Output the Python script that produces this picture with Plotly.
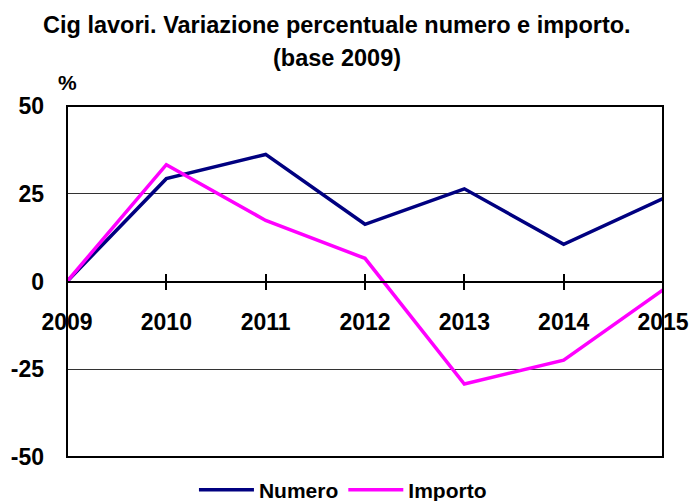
import plotly.graph_objects as go

years = [2009, 2010, 2011, 2012, 2013, 2014, 2015]
numero = [0, 29.3, 36.2, 16.3, 26.4, 10.6, 23.6]
importo = [0, 33.3, 17.4, 6.6, -29.2, -22.4, -2.4]
y_ticks = [-50, -25, 0, 25, 50]

title_line1 = "Cig lavori. Variazione percentuale numero e importo."
title_line2 = "(base 2009)"

font_family = "Arial, Liberation Sans, sans-serif"

fig = go.Figure()
fig.add_trace(go.Scatter(x=years, y=numero, mode="lines", name="Numero",
                         line=dict(color="#000080", width=3.5)))
fig.add_trace(go.Scatter(x=years, y=importo, mode="lines", name="Importo",
                         line=dict(color="#FF00FF", width=3.5)))
# invisible trace to drive the overlay axis (inside tick halves)
fig.add_trace(go.Scatter(x=years, y=[None]*len(years), xaxis="x2", yaxis="y",
                         showlegend=False, hoverinfo="skip"))

fig.update_layout(
    width=691, height=501,
    margin=dict(l=67, r=28, t=106, b=44),
    paper_bgcolor="white", plot_bgcolor="white",
    font=dict(family=font_family, color="black"),
    showlegend=True,
    legend=dict(orientation="h", x=0.463, xanchor="center",
                yref="container", y=0.022, yanchor="middle",
                font=dict(size=21, weight="bold"), itemwidth=55,
                bgcolor="rgba(0,0,0,0)"),
    xaxis=dict(
        range=[2009, 2015], tickmode="array", tickvals=years,
        ticktext=[str(y) for y in years],
        anchor="free", position=0.5, automargin=False,
        showline=True, linecolor="black", linewidth=1.5,
        ticks="outside", ticklen=8, tickwidth=1.5, tickcolor="black",
        ticklabelstandoff=12,
        tickfont=dict(size=23, weight="bold"),
        showgrid=False, zeroline=False,
    ),
    xaxis2=dict(
        range=[2009, 2015], tickmode="array", tickvals=years,
        overlaying="x", anchor="free", position=0.5, automargin=False,
        ticks="inside", ticklen=8, tickwidth=1.5, tickcolor="black",
        showticklabels=False, showline=False, showgrid=False, zeroline=False,
    ),
    yaxis=dict(
        range=[-50, 50], tickmode="array", tickvals=y_ticks,
        ticktext=[str(v) for v in y_ticks], automargin=False,
        showgrid=True, gridcolor="#333333", gridwidth=1,
        zeroline=False, ticks="", ticklabelstandoff=22,
        tickfont=dict(size=23, weight="bold"),
    ),
    shapes=[dict(type="rect", xref="paper", yref="paper", x0=0, x1=1, y0=0, y1=1,
                 line=dict(color="black", width=2), layer="above")],
    annotations=[
        dict(text=title_line1, xref="paper", yref="paper", x=0.453, y=1.0,
             xanchor="center", yanchor="middle", yshift=81, showarrow=False,
             font=dict(size=23.5, weight="bold")),
        dict(text=title_line2, xref="paper", yref="paper", x=0.453, y=1.0,
             xanchor="center", yanchor="middle", yshift=48, showarrow=False,
             font=dict(size=23.5, weight="bold")),
        dict(text="%", xref="paper", yref="paper", x=0.0, y=1.0,
             xanchor="center", yanchor="middle", yshift=24, showarrow=False,
             font=dict(size=21, weight="bold")),
    ],
)

fig.write_html("out.html", config={"displayModeBar": False},
               post_script="document.body.style.margin='0';document.body.style.overflow='hidden';")
